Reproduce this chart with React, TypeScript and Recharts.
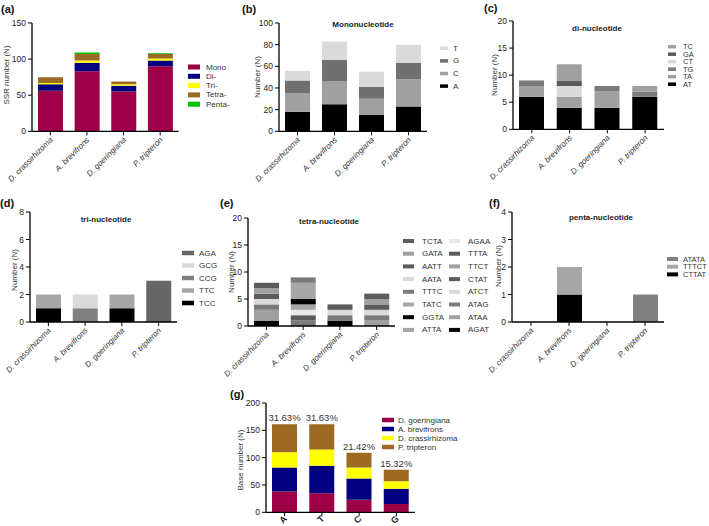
import { Bar, BarChart, LabelList, XAxis, YAxis } from 'recharts'

const FONT = '"Liberation Sans", Arial, Helvetica, sans-serif'

const species = ['D. crassirhizoma', 'A. brevifrons', 'D. goeringiana', 'P. tripteron']

// (a) SSR number per repeat type
const ssrTypes = ['Mono', 'Di-', 'Tri-', 'Tetra-', 'Penta-']
const ssrMono = [56, 83, 55, 90]
const ssrDi = [9, 12, 8, 8]
const ssrTri = [2, 3, 2, 3]
const ssrTetra = [8, 9, 4, 6]
const ssrPenta = [0, 2, 0, 1]
const ssrColors = ['#9e0048', '#000080', '#ffff00', '#9c6a22', '#00c000']

// (b) mononucleotide motifs (bottom -> top)
const monoMotifs = ['A', 'C', 'G', 'T']
const monoA = [18, 25, 15, 23]
const monoC = [17, 21, 15, 25]
const monoG = [12, 20, 11, 15]
const monoT = [9, 17, 14, 17]
const monoColors = ['#000000', '#a0a0a0', '#707070', '#dadada']

// (c) di-nucleotide motifs
const diMotifs = ['AT', 'TA', 'TG', 'CT', 'GA', 'TC']
const diAT = [6, 4, 4, 6]
const diTA = [2, 2, 3, 0]
const diTG = [1, 0, 1, 1]
const diCT = [0, 2, 0, 0]
const diGA = [0, 1, 0, 0]
const diTC = [0, 3, 0, 1]
const diColors = ['#000000', '#a0a0a0', '#7a7a7a', '#dadada', '#5a5a5a', '#a0a0a0']

// (d) tri-nucleotide motifs
const triMotifs = ['TCC', 'TTC', 'CCG', 'GCG', 'AGA']
const triTCC = [1, 0, 1, 0]
const triTTC = [1, 0, 1, 0]
const triCCG = [0, 1, 0, 0]
const triGCG = [0, 1, 0, 0]
const triAGA = [0, 0, 0, 3]
const triColors = ['#000000', '#a6a6a6', '#808080', '#dadada', '#666666']

// (e) tetra-nucleotide motifs, counts per species in motif order
const tetraMotifs = ['AGAT', 'ATAA', 'ATAG', 'ATCT', 'CTAT', 'TTCT', 'TTTA', 'AGAA',
  'ATTA', 'GGTA', 'TATC', 'TTTC', 'AATA', 'AATT', 'GATA', 'TCTA']
const tetraCrass = [1, 2, 1, 1, 1, 1, 1, 0, 0, 0, 0, 0, 0, 0, 0, 0]
const tetraBrev = [0, 0, 1, 0, 0, 0, 1, 1, 1, 1, 3, 1, 0, 0, 0, 0]
const tetraGoer = [1, 0, 1, 1, 1, 0, 0, 0, 0, 0, 0, 0, 0, 0, 0, 0]
const tetraTrip = [0, 1, 1, 1, 1, 1, 1, 0, 0, 0, 0, 0, 0, 0, 0, 0]
const tetraColors = ['#000000', '#a0a0a0', '#7a7a7a', '#dadada', '#5c5c5c', '#a0a0a0', '#5c5c5c', '#e8e8e8',
  '#a6a6a6', '#000000', '#a6a6a6', '#7a7a7a', '#dadada', '#5c5c5c', '#a0a0a0', '#5c5c5c']

// (f) penta-nucleotide motifs
const pentaMotifs = ['CTTAT', 'TTTCT', 'ATATA']
const pentaCTTAT = [0, 1, 0, 0]
const pentaTTTCT = [0, 1, 0, 0]
const pentaATATA = [0, 0, 0, 1]
const pentaColors = ['#000000', '#a6a6a6', '#808080']

// (g) base composition
const bases = ['A', 'T', 'C', 'G']
const baseSpecies = ['D. goeringiana', 'A. brevifrons', 'D. crassirhizoma', 'P. tripteron']
const baseGoer = [38, 35, 23, 15]
const baseBrev = [44, 50, 39, 28]
const baseCrass = [28, 30, 20, 14]
const baseTrip = [51, 46, 27, 21]
const basePercent = ['31.63%', '31.63%', '21.42%', '15.32%']
const baseColors = ['#9e0048', '#000080', '#ffff00', '#9c6a22']

type Series = { name: string; color: string }

const makeRows = (cats: string[], names: string[], cols: number[][]) =>
  cats.map((c, i) => {
    const row: Record<string, string | number> = { name: c }
    names.forEach((n, j) => { row[n] = cols[j][i] })
    return row
  })

const toSeries = (names: string[], colors: string[]): Series[] =>
  names.map((n, i) => ({ name: n, color: colors[i] }))

const dataA = makeRows(species, ssrTypes, [ssrMono, ssrDi, ssrTri, ssrTetra, ssrPenta])
const dataB = makeRows(species, monoMotifs, [monoA, monoC, monoG, monoT])
const dataC = makeRows(species, diMotifs, [diAT, diTA, diTG, diCT, diGA, diTC])
const dataD = makeRows(species, triMotifs, [triTCC, triTTC, triCCG, triGCG, triAGA])
const tetraBySpecies = [tetraCrass, tetraBrev, tetraGoer, tetraTrip]
const dataE = makeRows(species, tetraMotifs, tetraMotifs.map((_, j) => tetraBySpecies.map((s) => s[j])))
const dataF = makeRows(species, pentaMotifs, [pentaCTTAT, pentaTTTCT, pentaATATA])
const dataG = makeRows(bases, baseSpecies, [baseGoer, baseBrev, baseCrass, baseTrip])
  .map((r, i) => ({ ...r, pct: basePercent[i] }))

const SpeciesTick = (props: any) => {
  const { x, y, payload } = props
  const tx = x + 3
  const ty = y + 3
  return (
    <text x={tx} y={ty} transform={`rotate(-45 ${tx} ${ty})`} textAnchor="end"
      fontSize={8} fontStyle="italic" fill="#333" fontFamily={FONT}>
      {payload.value}
    </text>
  )
}

const BaseTick = (props: any) => {
  const { x, y, payload } = props
  const tx = x + 3
  const ty = y + 1
  return (
    <text x={tx} y={ty} transform={`rotate(-45 ${tx} ${ty})`} textAnchor="end"
      fontSize={9} fontWeight="bold" fill="#222" fontFamily={FONT}>
      {payload.value}
    </text>
  )
}

type PanelProps = {
  data: Record<string, string | number>[]
  series: Series[]
  x: number
  y: number
  w: number
  h: number
  domain: [number, number]
  ticks: number[]
  baseTicks?: boolean
  topLabel?: boolean
}

function StackPanel({ data, series, x, y, w, h, domain, ticks, baseTicks, topLabel }: PanelProps) {
  const YW = 30
  const MT = 12
  const MR = 4
  const XH = 60
  return (
    <div style={{ position: 'absolute', left: x - YW, top: y - MT }}>
      <BarChart width={YW + w + MR} height={MT + h + XH} data={data}
        margin={{ top: MT, right: MR, left: 0, bottom: 0 }} barSize={25} style={{ overflow: 'visible' }}>
        <XAxis dataKey="name" interval={0} height={XH} tickSize={4}
          axisLine={{ stroke: '#000', strokeWidth: 1.3 }} tickLine={{ stroke: '#000' }}
          tick={baseTicks ? <BaseTick /> : <SpeciesTick />} />
        <YAxis width={YW} domain={domain} ticks={ticks} tickSize={4} allowDataOverflow
          axisLine={{ stroke: '#000', strokeWidth: 1.3 }} tickLine={{ stroke: '#000' }}
          tick={{ fontSize: 8.5, fill: '#222', fontFamily: FONT }} />
        {series.map((s, i) => (
          <Bar key={s.name} dataKey={s.name} stackId="s" fill={s.color} isAnimationActive={false}>
            {topLabel && i === series.length - 1 ? (
              <LabelList dataKey="pct" position="top" offset={3} fontSize={9.5} fill="#333" fontFamily={FONT} />
            ) : null}
          </Bar>
        ))}
      </BarChart>
    </div>
  )
}

type LegendProps = {
  items: Series[]
  x: number
  y: number
  step: number
  sw: number
  sh: number
  tx: number
  fontSize: number
}

function LegendBox({ items, x, y, step, sw, sh, tx, fontSize }: LegendProps) {
  return (
    <g>
      {items.map((s, i) => (
        <g key={s.name}>
          <rect x={x} y={y + i * step - sh / 2} width={sw} height={sh} fill={s.color} />
          <text x={tx} y={y + i * step} dominantBaseline="central" fontSize={fontSize} fill="#333">{s.name}</text>
        </g>
      ))}
    </g>
  )
}

const YLabel = ({ x, y, text }: { x: number; y: number; text: string }) => (
  <text x={x} y={y} transform={`rotate(-90 ${x} ${y})`} textAnchor="middle" dominantBaseline="central"
    fontSize={8} fill="#333">{text}</text>
)

const PanelLabel = ({ x, y, text }: { x: number; y: number; text: string }) => (
  <text x={x} y={y} fontSize={11} fontWeight="bold" fill="#111">{text}</text>
)

const Title = ({ x, y, text }: { x: number; y: number; text: string }) => (
  <text x={x} y={y} textAnchor="middle" fontSize={8} fontWeight="bold" fill="#222">{text}</text>
)

export default function App() {
  const sA = toSeries(ssrTypes, ssrColors)
  const sB = toSeries(monoMotifs, monoColors)
  const sC = toSeries(diMotifs, diColors)
  const sD = toSeries(triMotifs, triColors)
  const sE = toSeries(tetraMotifs, tetraColors)
  const sF = toSeries(pentaMotifs, pentaColors)
  const sG = toSeries(baseSpecies, baseColors)
  const legendE = [...sE].reverse()

  return (
    <div style={{ position: 'absolute', left: 0, top: 0, width: 709, height: 526, background: '#fff', fontFamily: FONT }}>
      <StackPanel data={dataA} series={sA} x={31.5} y={22.7} w={146.5} h={108.3} domain={[0, 150]} ticks={[0, 50, 100, 150]} />
      <StackPanel data={dataB} series={sB} x={279} y={22.7} w={148} h={108.3} domain={[0, 100]} ticks={[0, 20, 40, 60, 80, 100]} />
      <StackPanel data={dataC} series={sC} x={513} y={20.7} w={151} h={108.3} domain={[0, 20]} ticks={[0, 5, 10, 15, 20]} />
      <StackPanel data={dataD} series={sD} x={30} y={212} w={147} h={110} domain={[0, 8]} ticks={[0, 2, 4, 6, 8]} />
      <StackPanel data={dataE} series={sE} x={248} y={218} w={147} h={108} domain={[0, 20]} ticks={[0, 5, 10, 15, 20]} />
      <StackPanel data={dataF} series={sF} x={512} y={212} w={152} h={110} domain={[0, 4]} ticks={[0, 1, 2, 3, 4]} />
      <StackPanel data={dataG} series={sG} x={266} y={402.7} w={149} h={109.3} domain={[0, 200]} ticks={[0, 50, 100, 150, 200]} baseTicks topLabel />

      <svg width={709} height={526} style={{ position: 'absolute', left: 0, top: 0, pointerEvents: 'none', fontFamily: FONT }}>
        <PanelLabel x={1} y={13} text="(a)" />
        <PanelLabel x={242} y={13} text="(b)" />
        <PanelLabel x={484} y={12} text="(c)" />
        <PanelLabel x={0} y={207} text="(d)" />
        <PanelLabel x={220} y={207} text="(e)" />
        <PanelLabel x={489} y={207} text="(f)" />
        <PanelLabel x={230} y={398} text="(g)" />

        <YLabel x={6} y={75} text="SSR number (N)" />
        <YLabel x={257} y={77} text="Number (N)" />
        <YLabel x={494} y={75} text="Number (N)" />
        <YLabel x={14} y={270} text="Number (N)" />
        <YLabel x={231} y={272} text="Number (N)" />
        <YLabel x={498} y={266} text="Number (N)" />
        <YLabel x={240} y={460} text="Base number (N)" />

        <Title x={363} y={27} text="Mononucleotide" />
        <Title x={597} y={31} text="di-nucleotide" />
        <Title x={106} y={222} text="tri-nucleotide" />
        <Title x={329} y={224} text="tetra-nucleotide" />
        <Title x={601} y={220} text="penta-nucleotide" />

        <LegendBox items={sA} x={188} y={67} step={9.3} sw={12} sh={5} tx={206} fontSize={8} />
        <LegendBox items={[...sB].reverse()} x={440} y={48.3} step={12.6} sw={8} sh={3.5} tx={453} fontSize={8} />
        <LegendBox items={[...sC].reverse()} x={668} y={46.7} step={7.5} sw={8} sh={3.5} tx={683} fontSize={7.5} />
        <LegendBox items={[...sD].reverse()} x={182} y={253} step={12.5} sw={12} sh={4.5} tx={199} fontSize={8} />
        <LegendBox items={legendE.slice(0, 8)} x={403} y={241} step={12.7} sw={11} sh={4} tx={422} fontSize={8} />
        <LegendBox items={legendE.slice(8)} x={449} y={241} step={12.7} sw={11} sh={4} tx={468} fontSize={8} />
        <LegendBox items={[...sF].reverse()} x={667} y={259} step={7.7} sw={11} sh={4} tx={683} fontSize={7.5} />
        <LegendBox items={sG} x={382} y={420} step={9} sw={12} sh={4.5} tx={398} fontSize={8} />
      </svg>
    </div>
  )
}
